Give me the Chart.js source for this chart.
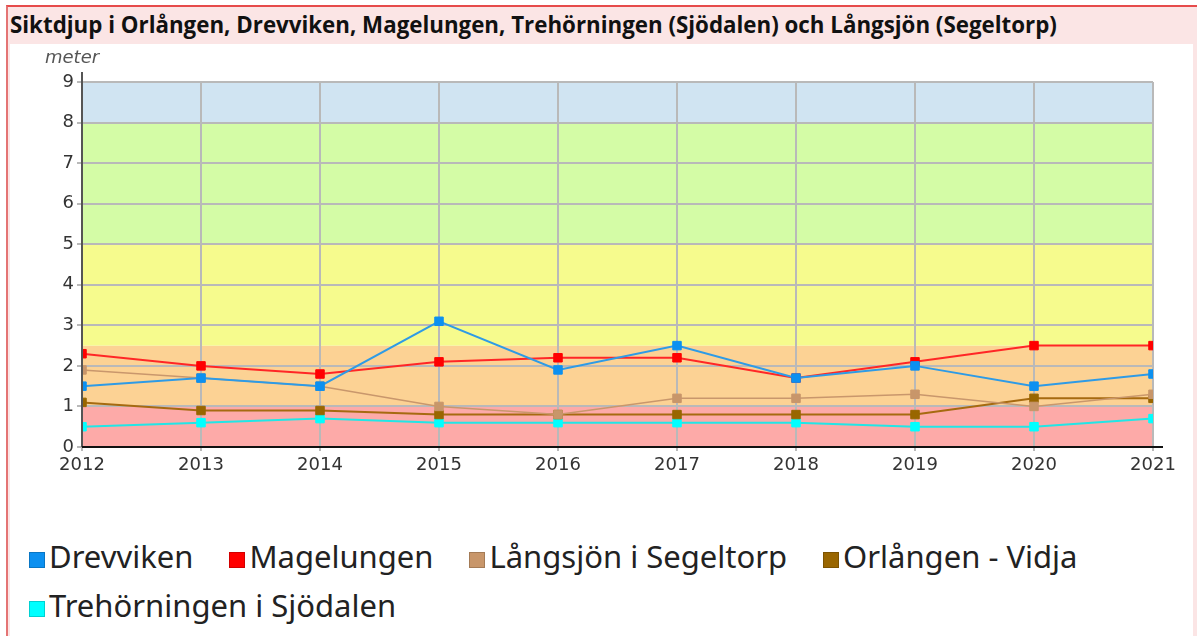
<!DOCTYPE html>
<html>
<head>
<meta charset="utf-8">
<script src="https://cdn.jsdelivr.net/npm/chart.js@4.4.1/dist/chart.umd.min.js"></script>
<style>
    html, body { margin: 0; padding: 0; background: #fff; }
    #page { position: relative; width: 1197px; height: 636px; overflow: hidden; background: #fff; }
    #frame {
        position: absolute; left: 6px; top: 5px; width: 1200px; height: 640px;
        border-top: 2px solid #e64b4b; border-left: 2px solid #e47474;
        background: #fbe5e5;
    }
    #title {
        position: absolute; left: 10px; top: 7px;
        font: bold 24px "Open Sans", sans-serif;
        color: #111; white-space: nowrap; transform-origin: 0 50%;
    }
    #panel { position: absolute; left: 10px; top: 44px; width: 1183px; height: 600px; background: #fff; }
    #unit {
        position: absolute; left: 45px; top: 46px;
        font: italic 18px "DejaVu Sans", sans-serif; color: #555;
    }
    #chartWrap { position: absolute; left: 10px; top: 44px; width: 1182px; height: 440px; }
    #legend {
        position: absolute; left: 29px; top: 532px; width: 1160px;
        font: 31px "Noto Sans", sans-serif; color: #222; line-height: 49px;
    }
    .item { display: inline-block; margin-right: 36px; white-space: nowrap; }
    .box {
        display: inline-block; width: 14px; height: 14px; margin-right: 4px;
        border: 1px solid rgba(0,0,0,0.18); vertical-align: baseline;
    }
</style>
</head>
<body>
<div id="page">
    <div id="frame"></div>
    <div id="title">Siktdjup i Orlången, Drevviken, Magelungen, Trehörningen (Sjödalen) och Långsjön (Segeltorp)</div>
    <div id="panel"></div>
    <div id="chartWrap"><canvas id="siktChart"></canvas></div>
    <div id="unit">meter</div>
    <div id="legend"></div>
</div>
<script>
// ============================================
// Data
// ============================================
const years = ['2012', '2013', '2014', '2015', '2016', '2017', '2018', '2019', '2020', '2021'];

const drevviken    = [1.5, 1.7, 1.5, 3.1, 1.9, 2.5, 1.7, 2.0, 1.5, 1.8];
const magelungen   = [2.3, 2.0, 1.8, 2.1, 2.2, 2.2, 1.7, 2.1, 2.5, 2.5];
const langsjon     = [1.9, 1.7, 1.5, 1.0, 0.8, 1.2, 1.2, 1.3, 1.0, 1.3];
const orlangen     = [1.1, 0.9, 0.9, 0.8, 0.8, 0.8, 0.8, 0.8, 1.2, 1.2];
const trehorningen = [0.5, 0.6, 0.7, 0.6, 0.6, 0.6, 0.6, 0.5, 0.5, 0.7];

const yTicks = [0, 1, 2, 3, 4, 5, 6, 7, 8, 9];

// classification bands (meter)
const bandLimits = [0, 1, 2.5, 5, 8, 9];
const bandColors = ['#fdaaa8', '#fcd294', '#f6fb8d', '#d4fca6', '#d0e4f2'];

const seriesNames = ['Drevviken', 'Magelungen', 'Långsjön i Segeltorp', 'Orlången - Vidja', 'Trehörningen i Sjödalen'];
const seriesValues = [drevviken, magelungen, langsjon, orlangen, trehorningen];
const markerColors = ['#0c90f0', '#ff0000', '#c8966a', '#996600', '#00ffff'];
const lineColors = ['#2e9be6', '#ff2626', '#c9976c', '#a66a10', '#22e6e6'];
const lineWidths = [2, 2, 1.5, 2, 2];

// ============================================
// Plugins
// ============================================
const bandsPlugin = {
    id: 'bands',
    beforeDraw(chart) {
        const { ctx, chartArea, scales } = chart;
        ctx.save();
        for (let i = 0; i < bandColors.length; i++) {
            const top = scales.y.getPixelForValue(bandLimits[i + 1]);
            const bottom = scales.y.getPixelForValue(bandLimits[i]);
            ctx.fillStyle = bandColors[i];
            ctx.fillRect(chartArea.left, top, chartArea.right - chartArea.left, bottom - top);
        }
        ctx.restore();
    }
};

const axisExtras = {
    id: 'axisExtras',
    afterDraw(chart) {
        const { ctx, chartArea } = chart;
        ctx.save();
        ctx.lineWidth = 2;
        ctx.strokeStyle = '#555';
        ctx.beginPath();
        ctx.moveTo(chartArea.left, chartArea.top - 10);
        ctx.lineTo(chartArea.left, chartArea.bottom);
        ctx.stroke();
        ctx.strokeStyle = '#111';
        ctx.beginPath();
        ctx.moveTo(chartArea.left, chartArea.bottom);
        ctx.lineTo(chartArea.right + 10, chartArea.bottom);
        ctx.stroke();
        ctx.restore();
    }
};

// ============================================
// Chart
// ============================================
const tickFont = { family: '"DejaVu Sans", sans-serif', size: 18 };

new Chart(document.getElementById('siktChart'), {
    type: 'line',
    data: {
        labels: years,
        datasets: seriesNames.map((name, i) => ({
            label: name,
            data: seriesValues[i],
            borderColor: lineColors[i],
            borderWidth: lineWidths[i],
            backgroundColor: markerColors[i],
            pointBackgroundColor: markerColors[i],
            pointBorderColor: markerColors[i],
            pointBorderWidth: 1,
            pointStyle: 'rect',
            pointRadius: 6,
            tension: 0,
            clip: 0
        }))
    },
    options: {
        responsive: true,
        maintainAspectRatio: false,
        animation: false,
        layout: { padding: { left: 0, top: 38, right: 39, bottom: 0 } },
        plugins: {
            legend: { display: false },
            tooltip: { enabled: false }
        },
        scales: {
            x: {
                offset: false,
                grid: { color: '#b9b9b9', lineWidth: 2, tickLength: 4 },
                border: { display: false },
                ticks: { font: tickFont, color: '#333', padding: 4, maxRotation: 0 },
                afterFit: (scale) => { scale.height = 37; }
            },
            y: {
                min: 0,
                max: 9,
                grid: { color: '#b9b9b9', lineWidth: 2, tickLength: 5 },
                border: { display: false },
                afterBuildTicks: (scale) => { scale.ticks = yTicks.map(v => ({ value: v })); },
                ticks: { font: tickFont, color: '#333', padding: 3 },
                afterFit: (scale) => { scale.width = 72; }
            }
        }
    },
    plugins: [bandsPlugin, axisExtras]
});

// ============================================
// Title width + legend
// ============================================
const titleEl = document.getElementById('title');
titleEl.style.transform = 'scaleX(' + (1047 / titleEl.offsetWidth) + ')';

document.getElementById('legend').innerHTML = seriesNames.map((name, i) =>
    `<span class="item"><span class="box" style="background:${markerColors[i]}"></span>${name}</span>`
).join('');
</script>
</body>
</html>
